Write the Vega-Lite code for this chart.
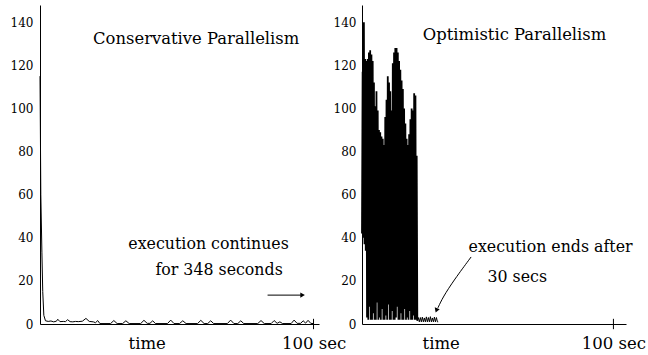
{
  "$schema": "https://vega.github.io/schema/vega-lite/v6.json",
  "background": "white",
  "padding": {"left": 10, "top": 5, "right": 0, "bottom": 0},
  "spacing": 43,
  "bounds": "flush",
  "config": {
    "view": {"stroke": null},
    "font": "DejaVu Serif",
    "text": {"font": "DejaVu Serif"},
    "axis": {"labelFont": "DejaVu Serif", "labelColor": "black", "domainColor": "black", "domainWidth": 1, "grid": false, "ticks": false, "title": null}
  },
  "datasets": {
    "cons": [
      {"t": 0, "v": 115}, {"t": 0.3, "v": 60}, {"t": 0.7, "v": 33}, {"t": 1.0, "v": 15}, {"t": 1.4, "v": 4},
      {"t": 2.0, "v": 1.5}, {"t": 3, "v": 1.2}, {"t": 4, "v": 1.4}, {"t": 5, "v": 1.0}, {"t": 6, "v": 1.3},
      {"t": 6.5, "v": 2.2}, {"t": 7.3, "v": 1.1}, {"t": 8.5, "v": 1.2}, {"t": 9.3, "v": 1.1}, {"t": 10.1, "v": 2.0},
      {"t": 11, "v": 1.1}, {"t": 12, "v": 1.0}, {"t": 13, "v": 1.2}, {"t": 14, "v": 1.1}, {"t": 15.5, "v": 1.3},
      {"t": 16.8, "v": 2.6}, {"t": 18, "v": 1.2}, {"t": 19.5, "v": 1.0}, {"t": 20.3, "v": 0.6}, {"t": 21.1, "v": 1.6},
      {"t": 21.9, "v": 0.2}, {"t": 25.8, "v": 0.2}, {"t": 27.0, "v": 1.6}, {"t": 28.2, "v": 0.2}, {"t": 30.2, "v": 0.2},
      {"t": 31.4, "v": 1.5}, {"t": 32.6, "v": 0.2}, {"t": 36.8, "v": 0.2}, {"t": 38.0, "v": 1.7}, {"t": 39.2, "v": 0.3},
      {"t": 40.2, "v": 0.3}, {"t": 41.2, "v": 1.5}, {"t": 42.2, "v": 0.2}, {"t": 46.6, "v": 0.2}, {"t": 47.8, "v": 1.8},
      {"t": 49.0, "v": 0.2}, {"t": 51.0, "v": 0.2}, {"t": 52.2, "v": 1.5}, {"t": 53.4, "v": 0.2}, {"t": 57.6, "v": 0.2},
      {"t": 58.8, "v": 1.7}, {"t": 60.0, "v": 0.2}, {"t": 61.3, "v": 0.2}, {"t": 62.4, "v": 1.5}, {"t": 63.5, "v": 0.2},
      {"t": 68.5, "v": 0.2}, {"t": 69.7, "v": 1.8}, {"t": 70.9, "v": 0.2}, {"t": 72.3, "v": 0.2}, {"t": 73.4, "v": 1.5},
      {"t": 74.5, "v": 0.2}, {"t": 79.6, "v": 0.2}, {"t": 80.8, "v": 1.6}, {"t": 82.0, "v": 0.2}, {"t": 84.5, "v": 0.2},
      {"t": 85.6, "v": 1.6}, {"t": 86.7, "v": 0.3}, {"t": 87.7, "v": 1.0}, {"t": 88.7, "v": 0.2}, {"t": 91.8, "v": 0.2},
      {"t": 92.9, "v": 1.8}, {"t": 94.0, "v": 0.3}, {"t": 95.3, "v": 0.3}, {"t": 96.2, "v": 1.5}, {"t": 97.1, "v": 0.4},
      {"t": 98.0, "v": 1.7}, {"t": 99.0, "v": 0.3}, {"t": 100, "v": 0.2}
    ],
    "opt": [
      {"t": 0, "v": 42}, {"t": 0.25, "v": 117}, {"t": 0.5, "v": 40}, {"t": 0.75, "v": 140}, {"t": 1.0, "v": 37},
      {"t": 1.25, "v": 123}, {"t": 1.5, "v": 34}, {"t": 1.75, "v": 122}, {"t": 2.0, "v": 3}, {"t": 2.25, "v": 123},
      {"t": 2.5, "v": 2}, {"t": 2.75, "v": 126}, {"t": 3.0, "v": 8}, {"t": 3.25, "v": 127}, {"t": 3.5, "v": 2},
      {"t": 3.75, "v": 125}, {"t": 4.0, "v": 2}, {"t": 4.25, "v": 122}, {"t": 4.5, "v": 5}, {"t": 4.75, "v": 112},
      {"t": 5.0, "v": 2}, {"t": 5.25, "v": 101}, {"t": 5.5, "v": 2}, {"t": 5.75, "v": 108}, {"t": 6.0, "v": 10},
      {"t": 6.25, "v": 99}, {"t": 6.5, "v": 2}, {"t": 6.75, "v": 90}, {"t": 7.0, "v": 3}, {"t": 7.25, "v": 89},
      {"t": 7.5, "v": 2}, {"t": 7.75, "v": 87}, {"t": 8.0, "v": 7}, {"t": 8.25, "v": 86}, {"t": 8.5, "v": 2},
      {"t": 8.75, "v": 83}, {"t": 9.0, "v": 2}, {"t": 9.25, "v": 96}, {"t": 9.5, "v": 4}, {"t": 9.75, "v": 104},
      {"t": 10.0, "v": 2}, {"t": 10.25, "v": 115}, {"t": 10.5, "v": 9}, {"t": 10.75, "v": 112}, {"t": 11.0, "v": 2},
      {"t": 11.25, "v": 108}, {"t": 11.5, "v": 2}, {"t": 11.75, "v": 99}, {"t": 12.0, "v": 6}, {"t": 12.25, "v": 121},
      {"t": 12.5, "v": 2}, {"t": 12.75, "v": 126}, {"t": 13.0, "v": 2}, {"t": 13.25, "v": 128}, {"t": 13.5, "v": 3},
      {"t": 13.75, "v": 128}, {"t": 14.0, "v": 8}, {"t": 14.25, "v": 126}, {"t": 14.5, "v": 2}, {"t": 14.75, "v": 122},
      {"t": 15.0, "v": 2}, {"t": 15.25, "v": 118}, {"t": 15.5, "v": 5}, {"t": 15.75, "v": 113}, {"t": 16.0, "v": 2},
      {"t": 16.25, "v": 109}, {"t": 16.5, "v": 2}, {"t": 16.75, "v": 100}, {"t": 17.0, "v": 7}, {"t": 17.25, "v": 93},
      {"t": 17.5, "v": 2}, {"t": 17.75, "v": 86}, {"t": 18.0, "v": 3}, {"t": 18.25, "v": 83}, {"t": 18.5, "v": 2},
      {"t": 18.75, "v": 88}, {"t": 19.0, "v": 6}, {"t": 19.25, "v": 95}, {"t": 19.5, "v": 2}, {"t": 19.75, "v": 100},
      {"t": 20.0, "v": 2}, {"t": 20.25, "v": 99}, {"t": 20.5, "v": 4}, {"t": 20.75, "v": 107}, {"t": 21.0, "v": 2},
      {"t": 21.25, "v": 106}, {"t": 21.5, "v": 2}, {"t": 21.75, "v": 78}, {"t": 22.0, "v": 1.5}
    ],
    "optTail": [
      {"t": 22.0, "v": 1.5},
      {"t": 22.4, "v": 3}, {"t": 22.8, "v": 1}, {"t": 23.2, "v": 3}, {"t": 23.6, "v": 1}, {"t": 24.0, "v": 3.2},
      {"t": 24.4, "v": 1}, {"t": 24.8, "v": 2.8}, {"t": 25.2, "v": 1}, {"t": 25.6, "v": 3.3}, {"t": 26.0, "v": 1},
      {"t": 26.4, "v": 3}, {"t": 26.8, "v": 1}, {"t": 27.2, "v": 3.4}, {"t": 27.6, "v": 1}, {"t": 28.0, "v": 2.8},
      {"t": 28.4, "v": 1}, {"t": 28.8, "v": 3.2}, {"t": 29.2, "v": 1}, {"t": 29.6, "v": 3}, {"t": 30.0, "v": 1},
      {"t": 30.3, "v": 1}
    ],
    "consTitle": [{"t": 19.4, "v": 129.8, "label": "Conservative Parallelism"}],
    "consNotes": [
      {"t": 32.3, "v": 34.8, "label": "execution continues"},
      {"t": 42.2, "v": 22.7, "label": "for 348 seconds"}
    ],
    "optTitle": [{"t": 24.2, "v": 131.7, "label": "Optimistic Parallelism"}],
    "optNotes": [
      {"t": 42.4, "v": 33.4, "label": "execution ends after"},
      {"t": 49.9, "v": 19.5, "label": "30 secs"}
    ],
    "tick100": [{"t": 100, "v": -2.4, "v2": 2.4}],
    "consArrow": [{"t": 83.2, "t2": 95.4, "v": 13.4}],
    "consHead": [{"t": 96.0, "v": 13.4}],
    "optArrow": [{"t": 43.4, "v": 31.1}, {"t": 36.6, "v": 20.4}, {"t": 32.2, "v": 12.5}, {"t": 30.2, "v": 7.5}],
    "optHead": [{"t": 29.6, "v": 6.3}]
  },
  "hconcat": [
    {
      "width": 279,
      "height": 319,
      "layer": [
        {
          "data": {"name": "cons"},
          "mark": {"type": "line", "color": "black", "strokeWidth": 1},
          "encoding": {
            "x": {"field": "t", "type": "quantitative", "scale": {"domain": [0, 102], "nice": false, "zero": false},
                  "axis": {"values": [39, 100], "labelExpr": "datum.value == 100 ? '100 sec' : 'time'", "labelFontSize": 16.5, "labelPadding": 11, "labelFlush": false, "labelOverlap": false, "title": null}},
            "y": {"field": "v", "type": "quantitative", "scale": {"domain": [0, 148], "nice": false},
                  "axis": {"values": [0, 20, 40, 60, 80, 100, 120, 140], "labelFontSize": 12, "labelPadding": 7, "labelFlush": false, "title": null}}
          }
        },
        {
          "data": {"name": "consTitle"},
          "mark": {"type": "text", "align": "left", "baseline": "alphabetic", "fontSize": 16.4, "font": "DejaVu Serif", "color": "black"},
          "encoding": {"x": {"field": "t", "type": "quantitative"}, "y": {"field": "v", "type": "quantitative"}, "text": {"field": "label"}}
        },
        {
          "data": {"name": "consNotes"},
          "mark": {"type": "text", "align": "left", "baseline": "alphabetic", "fontSize": 15.8, "font": "DejaVu Serif", "color": "black"},
          "encoding": {"x": {"field": "t", "type": "quantitative"}, "y": {"field": "v", "type": "quantitative"}, "text": {"field": "label"}}
        },
        {
          "data": {"name": "tick100"},
          "mark": {"type": "rule", "color": "black", "strokeWidth": 1},
          "encoding": {"x": {"field": "t", "type": "quantitative"}, "y": {"field": "v", "type": "quantitative"}, "y2": {"field": "v2"}}
        },
        {
          "data": {"name": "consArrow"},
          "mark": {"type": "rule", "color": "black", "strokeWidth": 1},
          "encoding": {"x": {"field": "t", "type": "quantitative"}, "x2": {"field": "t2"}, "y": {"field": "v", "type": "quantitative"}}
        },
        {
          "data": {"name": "consHead"},
          "mark": {"type": "point", "shape": "triangle-right", "filled": true, "color": "black", "size": 28, "opacity": 1},
          "encoding": {"x": {"field": "t", "type": "quantitative"}, "y": {"field": "v", "type": "quantitative"}}
        }
      ]
    },
    {
      "width": 264,
      "height": 319,
      "layer": [
        {
          "data": {"name": "opt"},
          "mark": {"type": "line", "color": "black", "strokeWidth": 1.8},
          "encoding": {
            "x": {"field": "t", "type": "quantitative", "scale": {"domain": [0, 105], "nice": false, "zero": false},
                  "axis": {"values": [31.3, 100], "labelExpr": "datum.value == 100 ? '100 sec' : 'time'", "labelFontSize": 16.5, "labelPadding": 11, "labelFlush": false, "labelOverlap": false, "title": null}},
            "y": {"field": "v", "type": "quantitative", "scale": {"domain": [0, 148], "nice": false},
                  "axis": {"values": [0, 20, 40, 60, 80, 100, 120, 140], "labelFontSize": 12, "labelPadding": 6, "labelFlush": false, "title": null}}
          }
        },
        {
          "data": {"name": "optTail"},
          "mark": {"type": "line", "color": "black", "strokeWidth": 1},
          "encoding": {"x": {"field": "t", "type": "quantitative"}, "y": {"field": "v", "type": "quantitative"}}
        },
        {
          "data": {"name": "optTitle"},
          "mark": {"type": "text", "align": "left", "baseline": "alphabetic", "fontSize": 16.4, "font": "DejaVu Serif", "color": "black"},
          "encoding": {"x": {"field": "t", "type": "quantitative"}, "y": {"field": "v", "type": "quantitative"}, "text": {"field": "label"}}
        },
        {
          "data": {"name": "optNotes"},
          "mark": {"type": "text", "align": "left", "baseline": "alphabetic", "fontSize": 15.8, "font": "DejaVu Serif", "color": "black"},
          "encoding": {"x": {"field": "t", "type": "quantitative"}, "y": {"field": "v", "type": "quantitative"}, "text": {"field": "label"}}
        },
        {
          "data": {"name": "tick100"},
          "mark": {"type": "rule", "color": "black", "strokeWidth": 1},
          "encoding": {"x": {"field": "t", "type": "quantitative"}, "y": {"field": "v", "type": "quantitative"}, "y2": {"field": "v2"}}
        },
        {
          "data": {"name": "optArrow"},
          "mark": {"type": "line", "color": "black", "strokeWidth": 1, "interpolate": "basis"},
          "encoding": {"x": {"field": "t", "type": "quantitative"}, "y": {"field": "v", "type": "quantitative"}}
        },
        {
          "data": {"name": "optHead"},
          "mark": {"type": "point", "shape": "triangle-down", "filled": true, "color": "black", "size": 28, "opacity": 1, "angle": 20},
          "encoding": {"x": {"field": "t", "type": "quantitative"}, "y": {"field": "v", "type": "quantitative"}}
        }
      ]
    }
  ]
}
